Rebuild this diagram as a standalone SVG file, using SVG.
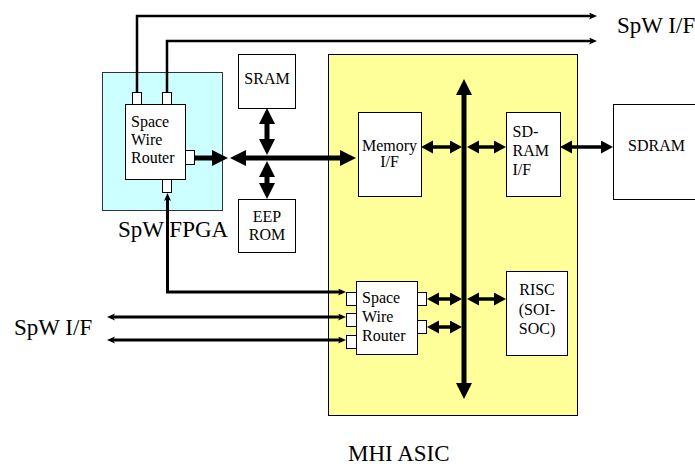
<svg xmlns="http://www.w3.org/2000/svg" width="695" height="464" viewBox="0 0 695 464">
<style>
text{font-family:"Liberation Serif","Times New Roman",serif;fill:#000}
.t{font-size:16px}
.L{font-size:23px}
.box{fill:#fff;stroke:#000;stroke-width:1}
.port{fill:#fff;stroke:#000;stroke-width:1}
.thin{fill:none;stroke:#000;stroke-width:2.5}
.sw{fill:none;stroke:#000;stroke-width:3}
.bus{fill:none;stroke:#000;stroke-width:5}
.mid{fill:none;stroke:#000;stroke-width:3.5}
</style>
<defs>
<marker id="aBig" markerUnits="userSpaceOnUse" markerWidth="18" markerHeight="18" refX="10" refY="8" orient="auto-start-reverse"><path d="M0,0 L16,8 L0,16 z"/></marker>
<marker id="aMid" markerUnits="userSpaceOnUse" markerWidth="13" markerHeight="14" refX="6" refY="6.5" orient="auto-start-reverse"><path d="M0,0 L12,6.5 L0,13 z"/></marker>
<marker id="aSm" markerUnits="userSpaceOnUse" markerWidth="10" markerHeight="8" refX="4" refY="3.5" orient="auto-start-reverse"><path d="M0,0 L8,3.5 L0,7 L2,3.5 z"/></marker>
</defs>

<g id="asic">
<rect x="328.5" y="54.5" width="249" height="361" fill="#ffff99" stroke="#000" stroke-width="1"/>
<text class="L" x="348" y="460.5">MHI ASIC</text>
</g>

<g id="fpga">
<rect x="102.5" y="72.5" width="120" height="138" fill="#ccffff" stroke="#333" stroke-width="1"/>
<text class="L" x="118" y="237">SpW FPGA</text>
</g>

<g id="fpga-router">
<rect class="box" x="125.5" y="104.5" width="60" height="75"/>
<rect class="port" x="132.5" y="92.5" width="9" height="12"/>
<rect class="port" x="162.5" y="92.5" width="9" height="12"/>
<rect class="port" x="185.5" y="150.5" width="9" height="14"/>
<rect class="port" x="162.5" y="179.5" width="9" height="13"/>
<text class="t" x="131" y="127">Space</text>
<text class="t" x="131" y="145">Wire</text>
<text class="t" x="131" y="163">Router</text>
</g>

<g id="sram">
<rect class="box" x="238.5" y="54.5" width="57" height="54"/>
<text class="t" x="267" y="84" text-anchor="middle">SRAM</text>
</g>

<g id="eeprom">
<rect class="box" x="238.5" y="199.5" width="57" height="53"/>
<text class="t" x="267" y="222" text-anchor="middle">EEP</text>
<text class="t" x="267" y="239.5" text-anchor="middle">ROM</text>
</g>

<g id="memory-if">
<rect class="box" x="358.5" y="112.5" width="63" height="84"/>
<text class="t" x="389.5" y="150.5" text-anchor="middle">Memory</text>
<text class="t" x="389.5" y="166.5" text-anchor="middle">I/F</text>
</g>

<g id="sdram-if">
<rect class="box" x="506.5" y="112.5" width="54" height="84"/>
<text class="t" x="512.5" y="137">SD-</text>
<text class="t" x="512.5" y="156">RAM</text>
<text class="t" x="512.5" y="175">I/F</text>
</g>

<g id="sdram">
<rect class="box" x="613.5" y="104.5" width="90" height="95"/>
<text class="t" x="628" y="150.5">SDRAM</text>
</g>

<g id="asic-router">
<rect class="box" x="356.5" y="281.5" width="61" height="73"/>
<rect class="port" x="346.5" y="292.5" width="10" height="13"/>
<rect class="port" x="346.5" y="313.5" width="10" height="13"/>
<rect class="port" x="346.5" y="335.5" width="10" height="13"/>
<rect class="port" x="417.5" y="292.5" width="9" height="13"/>
<rect class="port" x="417.5" y="320.5" width="9" height="13"/>
<text class="t" x="362" y="302.5">Space</text>
<text class="t" x="362" y="321.5">Wire</text>
<text class="t" x="362" y="340.5">Router</text>
</g>

<g id="risc">
<rect class="box" x="506.5" y="271.5" width="61" height="84"/>
<text class="t" x="537" y="295" text-anchor="middle">RISC</text>
<text class="t" x="537" y="315" text-anchor="middle">(SOI-</text>
<text class="t" x="537" y="334" text-anchor="middle">SOC)</text>
</g>

<g id="labels">
<text class="L" x="617" y="33">SpW I/F</text>
<text class="L" x="14" y="335">SpW I/F</text>
</g>

<g id="connectors">
<path class="thin" d="M137,92 V16 H593" marker-end="url(#aSm)"/>
<path class="thin" d="M167,92 V41 H593" marker-end="url(#aSm)"/>
<path class="sw" d="M342,292 H167.5 V197" marker-start="url(#aSm)" marker-end="url(#aSm)"/>
<path class="sw" d="M111,317 H342" marker-start="url(#aSm)" marker-end="url(#aSm)"/>
<path class="sw" d="M111,340 H342" marker-start="url(#aSm)" marker-end="url(#aSm)"/>
<path class="bus" d="M195,158 H222" stroke-width="4.5" marker-end="url(#aBig)"/>
<path class="bus" d="M236,158 H350" marker-start="url(#aBig)" marker-end="url(#aBig)"/>
<path class="bus" d="M267,114 V149" marker-start="url(#aBig)" marker-end="url(#aBig)"/>
<path class="bus" d="M267,167 V193" marker-start="url(#aBig)" marker-end="url(#aBig)"/>
<path class="bus" d="M464,85 V393" stroke-width="5.5" marker-start="url(#aBig)" marker-end="url(#aBig)"/>
<path class="mid" d="M427,147 H456" marker-start="url(#aMid)" marker-end="url(#aMid)"/>
<path class="mid" d="M473,147 H500" marker-start="url(#aMid)" marker-end="url(#aMid)"/>
<path class="mid" d="M566,147 H607" marker-start="url(#aMid)" marker-end="url(#aMid)"/>
<path class="mid" d="M433,299 H456" marker-start="url(#aMid)" marker-end="url(#aMid)"/>
<path class="mid" d="M433,327 H456" marker-start="url(#aMid)" marker-end="url(#aMid)"/>
<path class="mid" d="M473,299 H500" marker-start="url(#aMid)" marker-end="url(#aMid)"/>
</g>
</svg>
